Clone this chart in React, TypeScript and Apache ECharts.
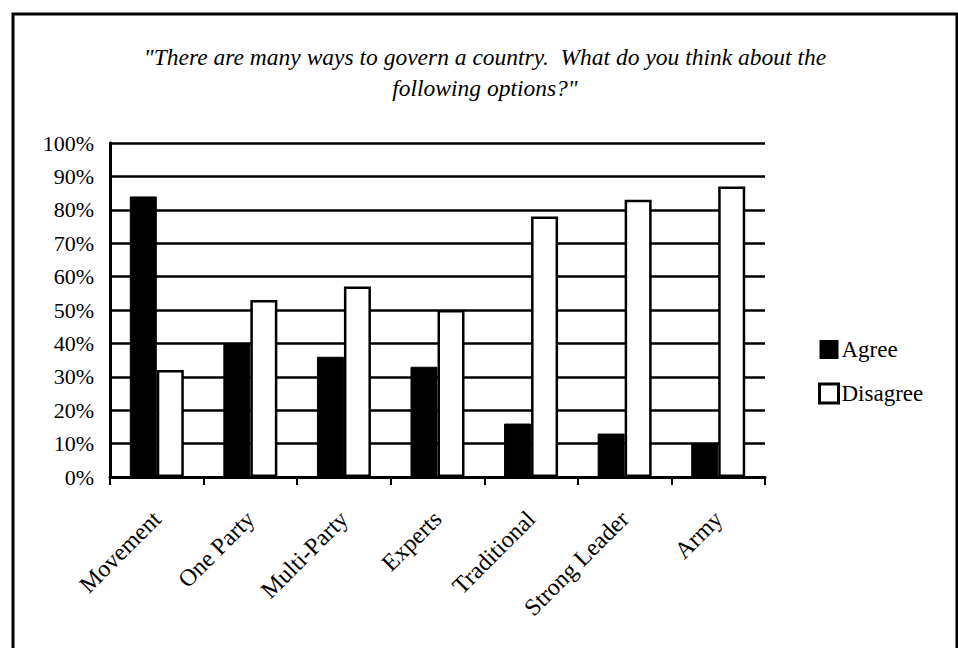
import React, { useEffect, useRef } from "react";
import * as echarts from "echarts";

const categories = ["Movement", "One Party", "Multi-Party", "Experts", "Traditional", "Strong Leader", "Army"];
const agree = [84, 40, 36, 33, 16, 13, 10];
const disagree = [32, 53, 57, 50, 78, 83, 87];
const titleLines = [
  "\"There are many ways to govern a country.  What do you think about the",
  "following options?\"",
];

const SERIF = "'Liberation Serif', 'Times New Roman', serif";

export default function App() {
  const ref = useRef<HTMLDivElement>(null);

  useEffect(() => {
    if (!ref.current) return;
    const chart = echarts.init(ref.current, null, { renderer: "svg" });
    chart.setOption({
      animation: false,
      backgroundColor: "#fff",
      textStyle: { fontFamily: SERIF, color: "#000" },
      graphic: [
        {
          type: "polyline",
          shape: { points: [[13, 700], [13, 14], [957, 14], [957, 700]] },
          style: { fill: "none", stroke: "#000", lineWidth: 3 },
        },
        ...titleLines.map((line, i) => ({
          type: "text",
          style: {
            text: line,
            x: 485,
            y: 57 + i * 31,
            textAlign: "center",
            textVerticalAlign: "middle",
            fontFamily: SERIF,
            fontStyle: "italic",
            fontSize: 23.5,
            fill: "#000",
          },
        })),
      ],
      legend: {
        orient: "vertical",
        left: 813,
        top: 333,
        icon: "rect",
        itemWidth: 19,
        itemHeight: 19,
        itemGap: 21,
        textStyle: { fontFamily: SERIF, fontSize: 23, lineHeight: 20, color: "#000", padding: [0, 0, 0, -2] },
        data: [
          { name: "Agree", itemStyle: { color: "#000", borderColor: "#000", borderWidth: 0 } },
          { name: "Disagree", itemStyle: { color: "#fff", borderColor: "#000", borderWidth: 3 } },
        ],
      },
      grid: { left: 110, right: 193, top: 143, bottom: 171, containLabel: false },
      xAxis: {
        type: "category",
        data: categories,
        axisLine: { lineStyle: { color: "#000", width: 3 } },
        axisTick: { show: true, length: 8, lineStyle: { color: "#000", width: 2 } },
        axisLabel: {
          rotate: 45,
          interval: 0,
          margin: 38,
          fontFamily: SERIF,
          fontSize: 24,
          color: "#000",
        },
      },
      yAxis: {
        type: "value",
        min: 0,
        max: 100,
        interval: 10,
        axisLine: { show: true, lineStyle: { color: "#000", width: 3 } },
        axisTick: { show: false },
        axisLabel: {
          formatter: "{value}%",
          fontFamily: SERIF,
          fontSize: 22,
          color: "#000",
          margin: 16,
        },
        splitLine: { show: true, lineStyle: { color: "#000", width: 2.5 } },
      },
      series: [
        {
          name: "Agree",
          type: "bar",
          data: agree,
          barWidth: 27,
          barGap: "0%",
          itemStyle: { color: "#000", borderColor: "#000", borderWidth: 1 },
        },
        {
          name: "Disagree",
          type: "bar",
          data: disagree,
          barWidth: 27,
          barGap: "0%",
          itemStyle: { color: "#fff", borderColor: "#000", borderWidth: 2.5 },
        },
      ],
    });
    return () => chart.dispose();
  }, []);

  return (
    <div
      ref={ref}
      style={{ position: "fixed", left: 0, top: 0, width: 958, height: 648 }}
    />
  );
}
